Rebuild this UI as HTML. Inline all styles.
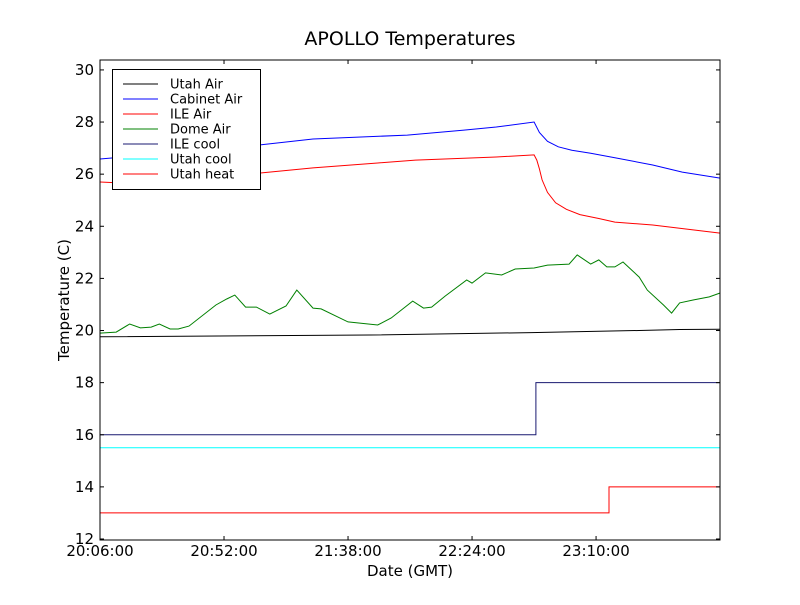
<!DOCTYPE html>
<html><head><meta charset="utf-8"><style>
body{margin:0;background:#fff}
svg text{font-family:"DejaVu Sans","Liberation Sans",sans-serif;fill:#000}
</style></head><body>
<svg id="chart" width="800" height="600" viewBox="0 0 800 600" xmlns="http://www.w3.org/2000/svg">
<rect width="800" height="600" fill="#fff"/>
<text x="410" y="45" font-size="19" text-anchor="middle">APOLLO Temperatures</text>
<g id="plot"></g>
<rect x="100" y="60" width="620" height="480" fill="none" stroke="#000" stroke-width="1"/>
<g id="axes"></g>
<text x="410" y="576" font-size="15" text-anchor="middle">Date (GMT)</text>
<text transform="translate(69,300) rotate(-90)" font-size="15" text-anchor="middle">Temperature (C)</text>
<g id="legend"></g>
</svg>
<script>
// minutes since 20:06:00
const xTickLabels = ["20:06:00","20:52:00","21:38:00","22:24:00","23:10:00"];
const xTickMinutes = [0,46,92,138,184];
const yTicks = [12,14,16,18,20,22,24,26,28,30];
const seriesNames = ["Utah Air","Cabinet Air","ILE Air","Dome Air","ILE cool","Utah cool","Utah heat"];
const utahAirT = [0,100,160,200,215,230];
const utahAirV = [19.76,19.83,19.92,20.0,20.04,20.05];
const cabinetT = [0,30,59,79,114,135,147,161,163,166,170,175,182,191,205,216,230];
const cabinetV = [26.58,26.85,27.12,27.35,27.50,27.69,27.81,28.0,27.6,27.26,27.05,26.92,26.8,26.63,26.35,26.08,25.85];
const ileAirT = [0,8,30,59,79,103,117,147,161,162,163,164,166,169,173,178,185,191,205,220,230];
const ileAirV = [25.70,25.66,25.85,26.04,26.24,26.43,26.54,26.66,26.74,26.54,26.2,25.78,25.3,24.9,24.65,24.45,24.3,24.16,24.05,23.86,23.74];
const domeT = [0,6,11,15,19,22,26,29,33,43,47,50,54,58,63,69,73,79,82,92,103,108,116,120,123,128,136,138,143,149,154,161,166,174,177,182,185,188,191,194,200,203,209,212,215,220,226,230];
const domeV = [19.90,19.94,20.25,20.10,20.13,20.25,20.06,20.06,20.17,20.98,21.21,21.36,20.90,20.90,20.63,20.94,21.55,20.86,20.83,20.33,20.21,20.48,21.13,20.86,20.90,21.32,21.94,21.82,22.21,22.13,22.36,22.40,22.51,22.55,22.90,22.55,22.71,22.44,22.44,22.63,22.05,21.55,20.98,20.67,21.06,21.17,21.29,21.44];
const ileCoolT = [0,161.7,161.7,230];
const ileCoolV = [16,16,18,18];
const utahCoolT = [0,230];
const utahCoolV = [15.5,15.5];
const utahHeatT = [0,188.8,188.8,230];
const utahHeatV = [13,13,14,14];

const NS="http://www.w3.org/2000/svg";
function X(t){return 100+t*2.696;}
function Y(v){return 539-(v-12)*26.06;}
function mk(tag,attrs,parent){const e=document.createElementNS(NS,tag);for(const k in attrs)e.setAttribute(k,attrs[k]);parent.appendChild(e);return e;}
const plot=document.getElementById('plot'),axes=document.getElementById('axes'),leg=document.getElementById('legend');
const colors=["#000000","#0000ff","#ff0000","#008000","#191970","#00ffff","#ff0000"];
const data=[[utahAirT,utahAirV],[cabinetT,cabinetV],[ileAirT,ileAirV],[domeT,domeV],[ileCoolT,ileCoolV],[utahCoolT,utahCoolV],[utahHeatT,utahHeatV]];
const slugs=["utah-air","cabinet-air","ile-air","dome-air","ile-cool","utah-cool","utah-heat"];
data.forEach((d,i)=>{
  const pts=d[0].map((t,j)=>X(t).toFixed(1)+","+Y(d[1][j]).toFixed(1)).join(" ");
  const p=mk('polyline',{points:pts,fill:'none',stroke:colors[i],'stroke-width':1},plot);
  
  
});
yTicks.forEach(v=>{
  const y=Y(v);
  mk('line',{x1:100,x2:104,y1:y,y2:y,stroke:'#000'},axes);
  mk('line',{x1:716,x2:720,y1:y,y2:y,stroke:'#000'},axes);
  const t=mk('text',{x:94,y:y+5,'font-size':15,'text-anchor':'end'},axes);
  t.textContent=v;
  
  
});
xTickMinutes.forEach((m,i)=>{
  const x=X(m);
  mk('line',{x1:x,x2:x,y1:540,y2:536,stroke:'#000'},axes);
  mk('line',{x1:x,x2:x,y1:60,y2:64,stroke:'#000'},axes);
  const t=mk('text',{x:x,y:556,'font-size':15,'text-anchor':'middle'},axes);
  t.textContent=xTickLabels[i];
  
  
});
const lb=mk('rect',{x:112.5,y:69.5,width:148,height:120,fill:'#fff',stroke:'#000','stroke-width':1},leg);


seriesNames.forEach((n,i)=>{
  const y=84+i*15;
  const g=mk('g',{},leg);
  
  
  mk('line',{x1:123,x2:158,y1:y,y2:y,stroke:colors[i],'stroke-width':1},g);
  const t=mk('text',{x:170,y:y+4.5,'font-size':13},g);
  t.textContent=n;
});
</script>
</body></html>
